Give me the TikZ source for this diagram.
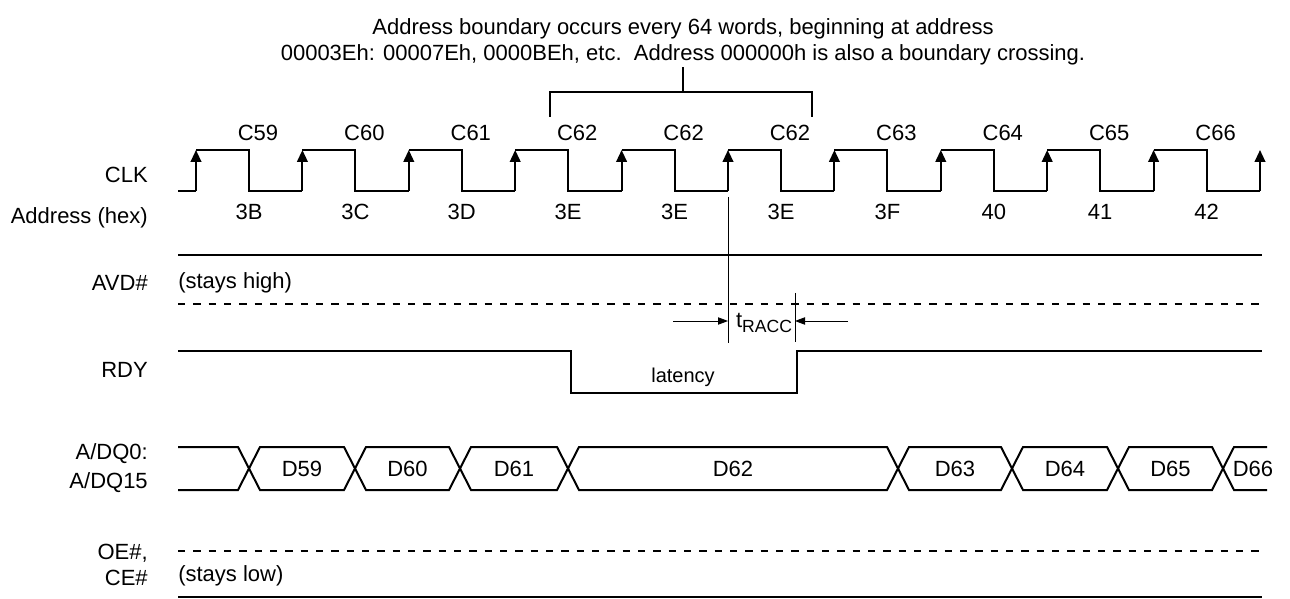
\documentclass[tikz,border=0pt]{standalone}
\usepackage{fontspec}
\setmainfont{Liberation Sans}
\usetikzlibrary{arrows.meta}

\begin{document}
\begin{tikzpicture}[x=0.75pt, y=-0.75pt, font=\fontsize{16.5}{20}\selectfont,
  sig/.style={line width=1.5pt},
  dsig/.style={line width=1.5pt, dash pattern=on 5.5pt off 6pt},
  clkedge/.style={line width=1.5pt, -{Triangle[length=9pt, width=8pt]}},
  guide/.style={line width=0.6pt},
  timing/.style={line width=0.6pt, -{Triangle[length=7.5pt, width=5.5pt]}},
  lbl/.style={anchor=east, inner sep=0pt},
  txt/.style={anchor=west, inner sep=0pt}]
\useasboundingbox (0,0) rectangle (1290,599);

\path (148,175) node[lbl] (clk) {CLK}
      (148,218) node[lbl] (addr) {Address (hex)}
      (148,283) node[lbl] (avd) {AVD\#}
      (148,370) node[lbl] (rdy) {RDY}
      (148,454) node[lbl] (dq0) {A/DQ0:}
      (148,483) node[lbl] (dq15) {A/DQ15}
      (148,553) node[lbl] (oe) {OE\#,}
      (148,578) node[lbl] (ce) {CE\#};

\path (683,67) node[anchor=south, align=center, inner sep=1pt] (note)
  {Address boundary occurs every 64 words, beginning at address\\
   00003Eh: 00007Eh, 0000BEh, etc.\ \ Address 000000h is also a boundary crossing.};
\coordinate (brk) at (683,92);
\draw[sig] (550,117) -- (550,92) -- (812,92) -- (812,117);
\draw[sig] (brk) -- (note.south);

\draw[sig] (178,191) -- (196,191);
\foreach \k in {0,...,9} {
  \pgfmathsetmacro\r{196+106.4*\k}
  \draw[sig] (\r,150) -- (\r+53,150) -- (\r+53,191) -- (\r+106.4,191);
}
\foreach \k in {0,...,10}
  \draw[clkedge] ({196+106.4*\k},191) -- ({196+106.4*\k},150);
\foreach \k/\c/\a in {0/C59/3B, 1/C60/3C, 2/C61/3D, 3/C62/3E, 4/C62/3E,
                      5/C62/3E, 6/C63/3F, 7/C64/40, 8/C65/41, 9/C66/42}
  \path ({258+106.4*\k},133) node (cyc\k) {\c}
        ({249+106.4*\k},212) node (adr\k) {\a};

\draw[sig] (178,255) -- (1262,255);

\path (178,283) node[txt] (high) {(stays high)};
\draw[dsig] (178,304) -- (1262,304);

\coordinate (racc0) at (728,321);
\coordinate (racc1) at (795,321);
\coordinate (in0) at (673,321);
\coordinate (in1) at (848,321);
\draw[guide] (728,197) -- (728,343);
\draw[guide] (795,293) -- (795,342);
\draw[timing] (in0) -- (racc0);
\draw[timing] (in1) -- (racc1);
\path (764,323) node (tracc) {t{\fontsize{13.2}{15}\selectfont\raisebox{-3.75pt}{RACC}}};

\draw[sig] (178,351) -- (571,351) -- (571,393) -- (797,393) -- (797,351) -- (1262,351);
\path (683,377) node[font=\fontsize{15}{18}\selectfont] (lat) {latency};

\draw[sig] (178,447) -- (238,447) -- (249,468.5) -- (238,490) -- (178,490);
\foreach \a/\b/\d [count=\i] in {249/355/D59, 355/460/D60, 460/568/D61, 568/898/D62,
                                 898/1012/D63, 1012/1118/D64, 1118/1223/D65} {
  \draw[sig] (\a,468.5) -- (\a+11,447) -- (\b-11,447) -- (\b,468.5)
             -- (\b-11,490) -- (\a+11,490) -- cycle;
  \path ({(\a+\b)/2},469) node (dat\i) {\d};
}
\draw[sig] (1267,447) -- (1234,447) -- (1223,468.5) -- (1234,490) -- (1267,490);
\path (1253,469) node (dat8) {D66};

\draw[dsig] (178,551) -- (1262,551);
\path (178,576) node[txt] (low) {(stays low)};
\draw[sig] (178,597) -- (1262,597);

\end{tikzpicture}
\end{document}
